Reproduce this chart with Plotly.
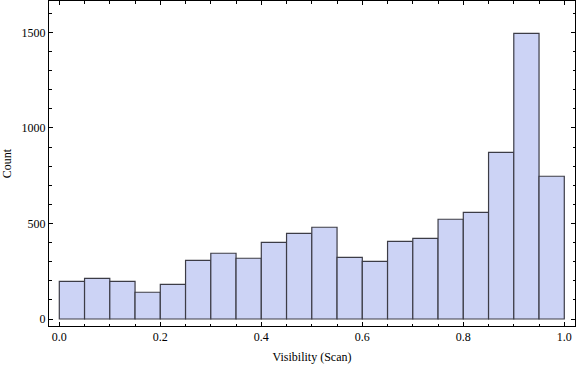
import plotly.graph_objects as go

bin_edges = [0.0, 0.05, 0.10, 0.15, 0.20, 0.25, 0.30, 0.35, 0.40, 0.45, 0.50,
             0.55, 0.60, 0.65, 0.70, 0.75, 0.80, 0.85, 0.90, 0.95, 1.0]
counts = [197, 213, 197, 140, 181, 307, 344, 318, 401, 448,
          480, 323, 302, 406, 422, 522, 558, 872, 1495, 747]
x_ticks = [0.0, 0.2, 0.4, 0.6, 0.8, 1.0]
x_tick_labels = ["0.0", "0.2", "0.4", "0.6", "0.8", "1.0"]
y_ticks = [0, 500, 1000, 1500]
y_tick_labels = ["0", "500", "1000", "1500"]

centers = [(a + b) / 2 for a, b in zip(bin_edges[:-1], bin_edges[1:])]
widths = [b - a for a, b in zip(bin_edges[:-1], bin_edges[1:])]

font_family = "Liberation Serif"

fig = go.Figure(
    go.Bar(
        x=centers,
        y=counts,
        width=widths,
        marker=dict(color="#CCD3F5", line=dict(color="#3C3C46", width=1.2)),
    )
)

fig.update_layout(
    width=576,
    height=366,
    margin=dict(l=49, r=1, t=1, b=40),
    paper_bgcolor="white",
    plot_bgcolor="white",
    showlegend=False,
    font=dict(family=font_family, size=12, color="black"),
)

fig.update_xaxes(
    range=[-0.0204, 1.0212],
    tickvals=x_ticks,
    ticktext=x_tick_labels,
    ticks="inside",
    ticklen=4,
    tickwidth=1,
    tickcolor="black",
    minor=dict(dtick=0.05, tick0=0, ticks="inside", ticklen=2.5, tickcolor="black", showgrid=False),
    showline=True,
    linecolor="black",
    linewidth=1,
    mirror="ticks",
    showgrid=False,
    zeroline=False,
    automargin=False,
    title=dict(text="Visibility (Scan)", standoff=9, font=dict(family=font_family, size=12)),
    tickfont=dict(family=font_family, size=12),
)

fig.update_yaxes(
    range=[-36.6, 1664],
    tickvals=y_ticks,
    ticktext=y_tick_labels,
    ticks="inside",
    ticklen=4,
    tickwidth=1,
    tickcolor="black",
    minor=dict(dtick=100, tick0=0, ticks="inside", ticklen=2.5, tickcolor="black", showgrid=False),
    showline=True,
    linecolor="black",
    linewidth=1,
    mirror="ticks",
    showgrid=False,
    zeroline=False,
    automargin=False,
    title=dict(text="Count", standoff=8, font=dict(family=font_family, size=12)),
    tickfont=dict(family=font_family, size=12),
)

fig.write_html(
    "out.html",
    config={"displayModeBar": False},
    post_script="document.body.style.margin='0px';",
)
